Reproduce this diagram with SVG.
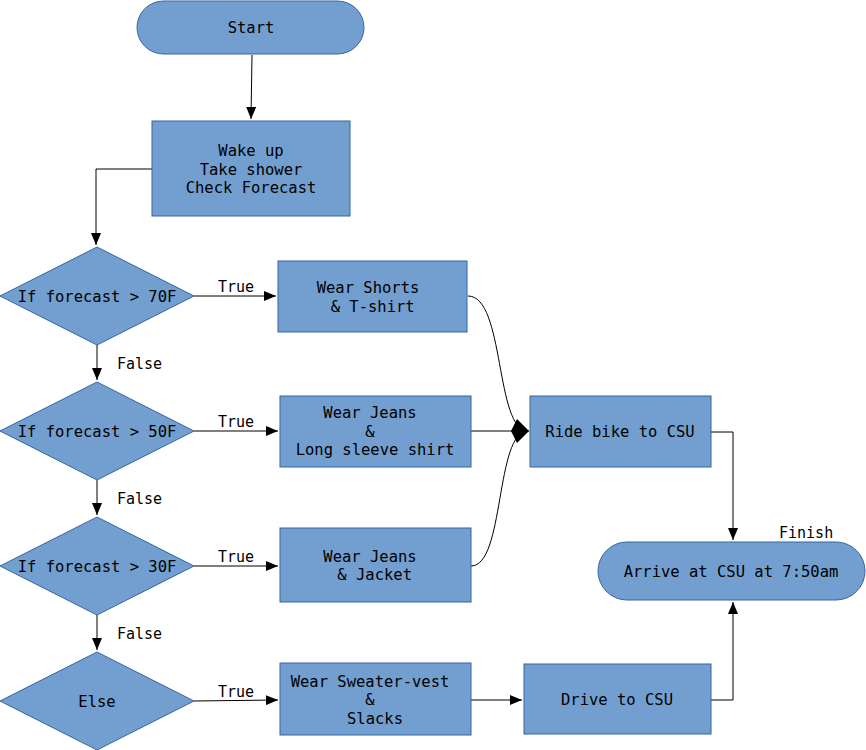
<svg xmlns="http://www.w3.org/2000/svg" width="866" height="750" viewBox="0 0 866 750">
<style>
.n{fill:#729fcf;stroke:#3465a4;stroke-width:1}
.t{font-family:"DejaVu Sans Mono",monospace;font-size:15.5px;fill:#000;text-anchor:middle}
.l{font-family:"DejaVu Sans Mono",monospace;font-size:15px;fill:#000}
.c{fill:none;stroke:#000;stroke-width:1}
</style>
<defs>
<marker id="a" markerWidth="12" markerHeight="10" refX="12" refY="5" orient="auto" markerUnits="userSpaceOnUse"><path d="M0,0 L12,5 L0,10 Z" fill="#000"/></marker>
<marker id="b" markerWidth="18" markerHeight="24" refX="18" refY="12" orient="auto" markerUnits="userSpaceOnUse"><path d="M0,12 L6,0 L18,12 L6,24 Z" fill="#000"/></marker>
</defs>
<g id="connectors">
<path class="c" d="M252,55 L251,119" marker-end="url(#a)"/>
<path class="c" d="M152,169 L96,169 L96,245" marker-end="url(#a)"/>
<path class="c" d="M97,345 L97,380" marker-end="url(#a)"/>
<path class="c" d="M97,480 L97,515" marker-end="url(#a)"/>
<path class="c" d="M97,615 L97,650" marker-end="url(#a)"/>
<path class="c" d="M194,296 L276,296" marker-end="url(#a)"/>
<path class="c" d="M194,431 L278,431" marker-end="url(#a)"/>
<path class="c" d="M194,566 L278,566" marker-end="url(#a)"/>
<path class="c" d="M194,701 L278,700" marker-end="url(#a)"/>
<path class="c" d="M471,700 L522,700" marker-end="url(#a)"/>
<path class="c" d="M468,296 C505,296 495,431 528,431"/>
<path class="c" d="M471,566 C505,566 495,431 528,431"/>
<path class="c" d="M471,431 L529,431" marker-end="url(#b)"/>
<path class="c" d="M711,432 L733,432 L733,540" marker-end="url(#a)"/>
<path class="c" d="M711,700 L733,700 L733,602" marker-end="url(#a)"/>
<text class="l" x="218" y="292">True</text>
<text class="l" x="218" y="427">True</text>
<text class="l" x="218" y="562">True</text>
<text class="l" x="218" y="697">True</text>
<text class="l" x="117" y="369">False</text>
<text class="l" x="117" y="504">False</text>
<text class="l" x="117" y="639">False</text>
<text class="l" x="779" y="538">Finish</text>
</g>
<g id="start"><rect class="n" x="137" y="1" width="227" height="53" rx="26.5"/><text class="t" x="251" y="33">Start</text></g>
<g id="wake"><rect class="n" x="152" y="121" width="198" height="95"/><text class="t" x="251" y="156">Wake up</text><text class="t" x="251" y="175">Take shower</text><text class="t" x="251" y="193">Check Forecast</text></g>
<g id="d70"><polygon class="n" points="97,247 194,296 97,345 0,296"/><text class="t" x="97" y="302">If forecast &gt; 70F</text></g>
<g id="d50"><polygon class="n" points="97,382 194,431 97,480 0,431"/><text class="t" x="97" y="437">If forecast &gt; 50F</text></g>
<g id="d30"><polygon class="n" points="97,517 194,566 97,615 0,566"/><text class="t" x="97" y="572">If forecast &gt; 30F</text></g>
<g id="else"><polygon class="n" points="97,652 194,701 97,750 0,701"/><text class="t" x="97" y="707">Else</text></g>
<g id="shorts"><rect class="n" x="278" y="261" width="189" height="71"/><text class="t" x="368" y="293">Wear Shorts</text><text class="t" x="368" y="312" xml:space="preserve"> &amp; T-shirt</text></g>
<g id="jeanslong"><rect class="n" x="280" y="396" width="191" height="71"/><text class="t" x="370" y="418">Wear Jeans</text><text class="t" x="370" y="437">&amp;</text><text class="t" x="375" y="455">Long sleeve shirt</text></g>
<g id="jacket"><rect class="n" x="280" y="528" width="191" height="74"/><text class="t" x="370" y="562">Wear Jeans</text><text class="t" x="370" y="580" xml:space="preserve"> &amp; Jacket</text></g>
<g id="sweater"><rect class="n" x="280" y="663" width="191" height="72"/><text class="t" x="370" y="687">Wear Sweater-vest</text><text class="t" x="370" y="705">&amp;</text><text class="t" x="375" y="724">Slacks</text></g>
<g id="bike"><rect class="n" x="530" y="396" width="181" height="71"/><text class="t" x="620" y="437">Ride bike to CSU</text></g>
<g id="drive"><rect class="n" x="524" y="664" width="187" height="70"/><text class="t" x="617" y="705">Drive to CSU</text></g>
<g id="arrive"><rect class="n" x="598" y="542" width="267" height="58" rx="29"/><text class="t" x="731" y="577">Arrive at CSU at 7:50am</text></g>
</svg>
